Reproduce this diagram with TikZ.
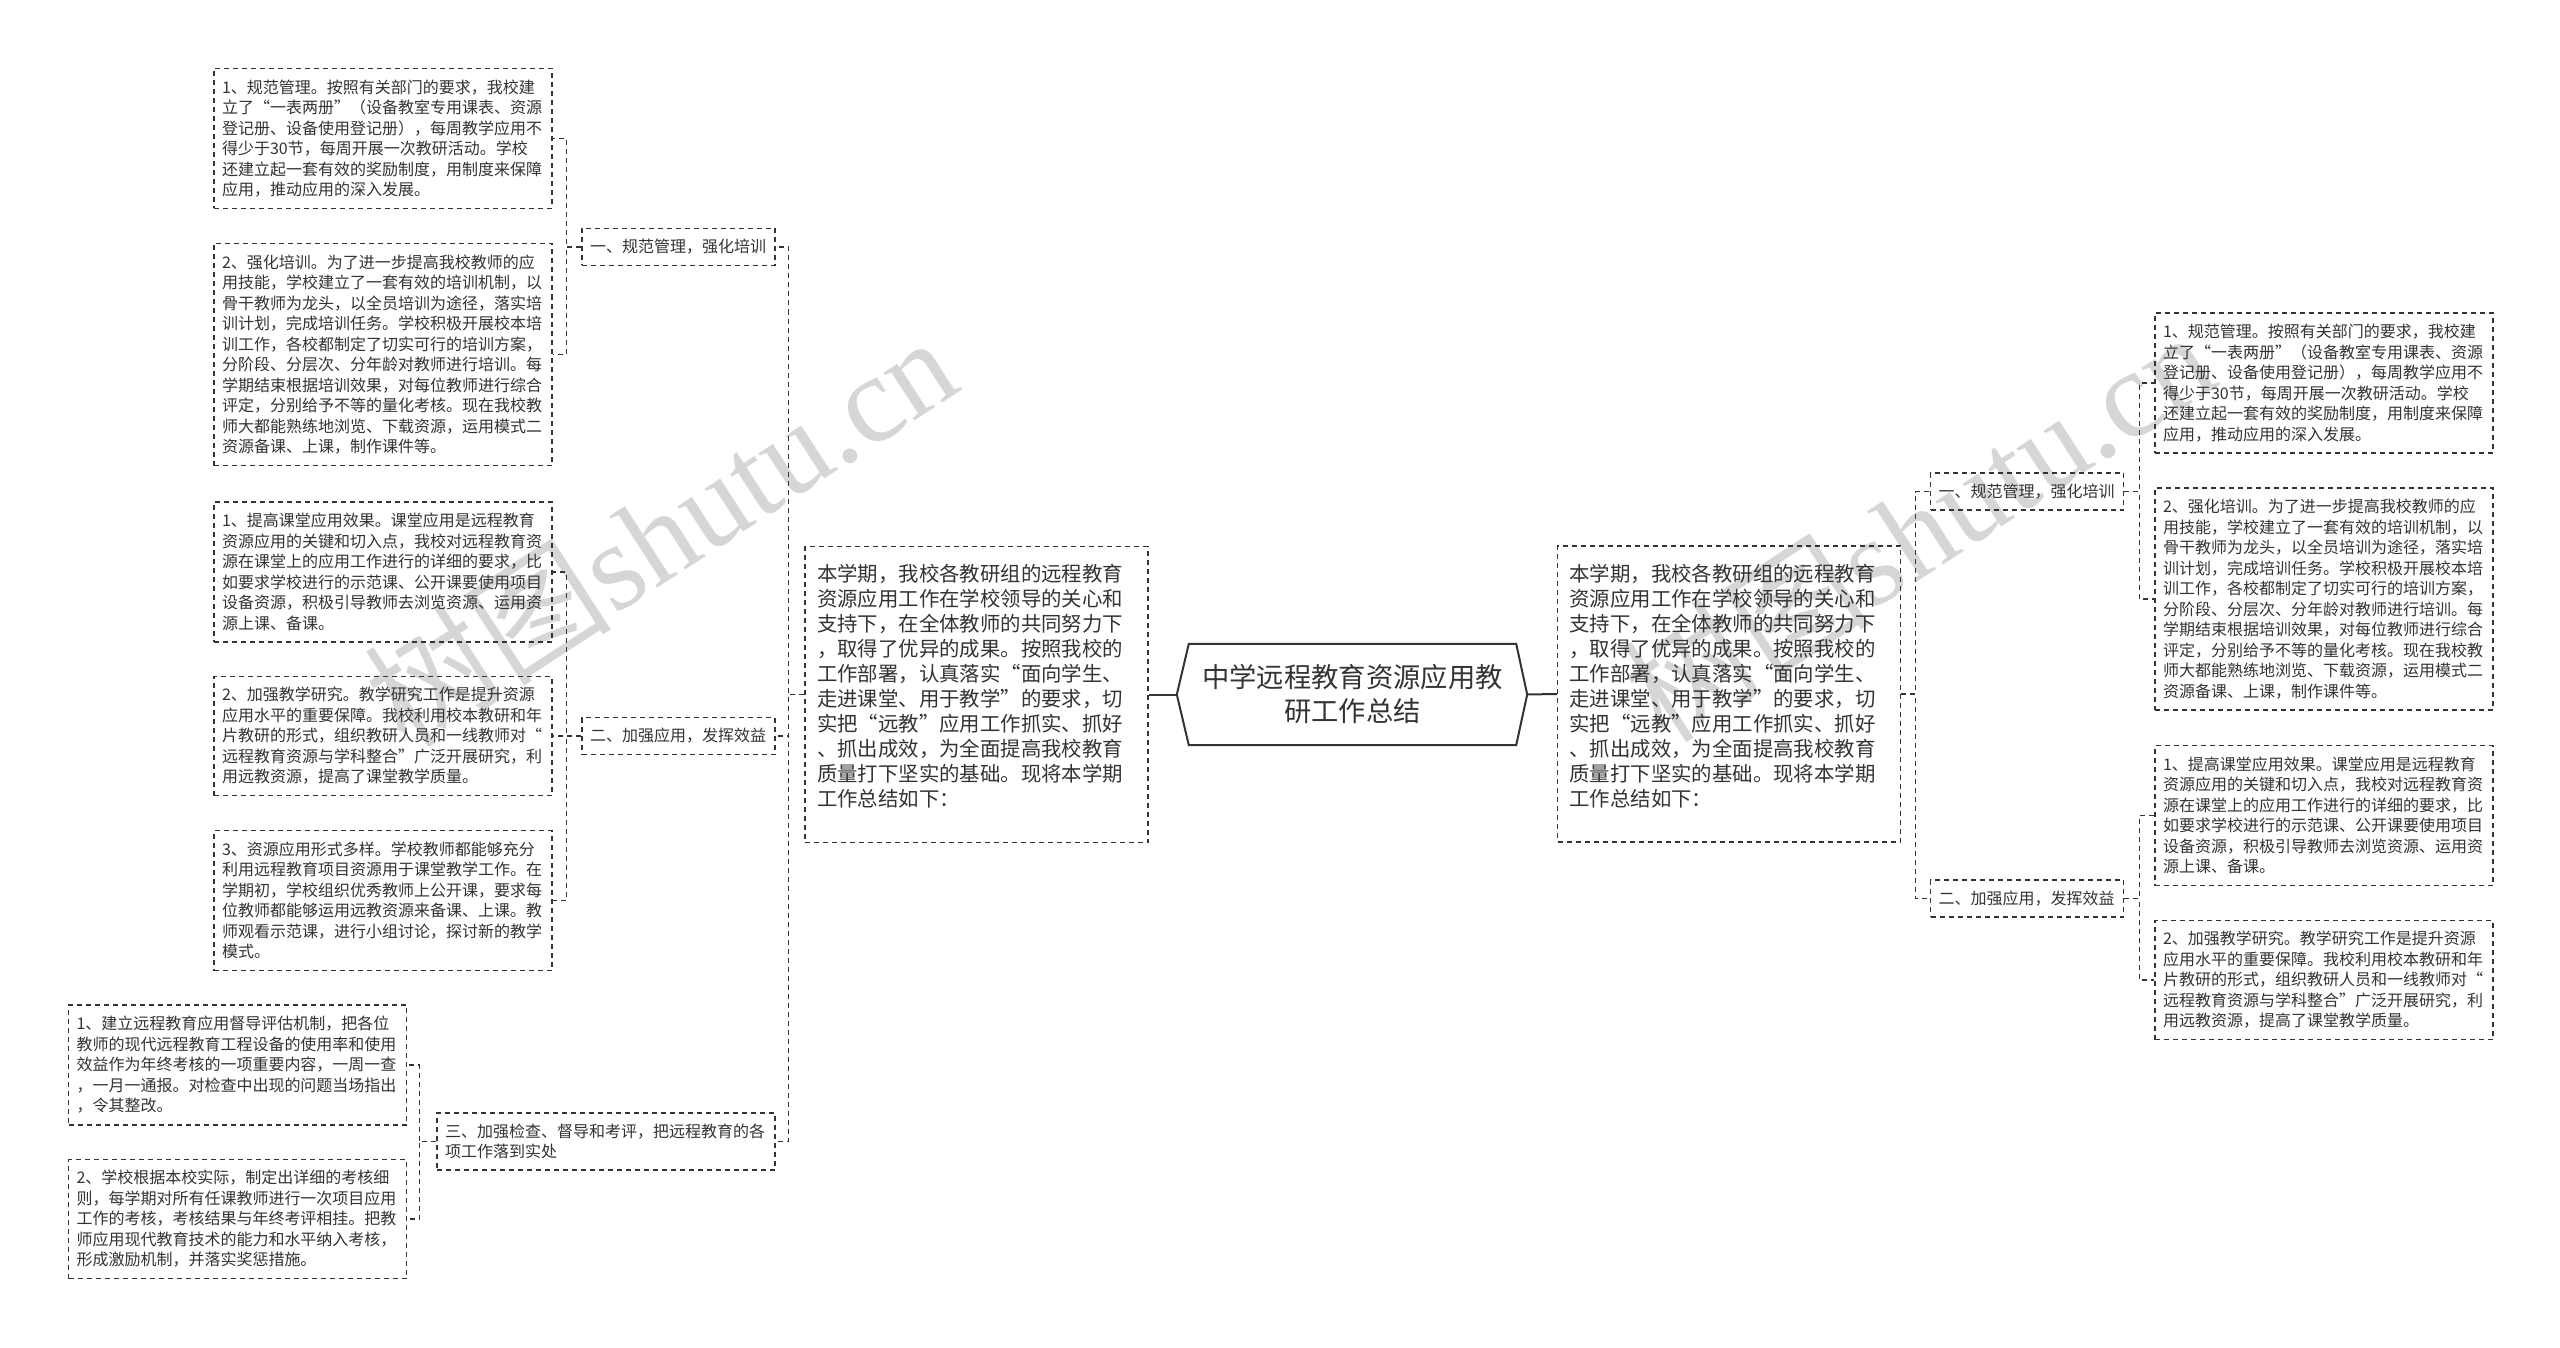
\documentclass[tikz,border=0pt]{standalone}
\usepackage{fontspec}
\setmainfont{Noto Sans CJK SC}
\newfontfamily\wmlatin{Liberation Serif}
\usetikzlibrary{calc}
\definecolor{ink}{HTML}{333333}
\definecolor{wmgray}{HTML}{D6D6D6}
\begin{document}
\begin{tikzpicture}[x=1pt,y=-1pt,
 dsh/.style={dash pattern=on 5pt off 4pt},
 box/.style={draw=ink,dsh,line width=1.5pt,text=ink,align=left,inner xsep=8pt,inner ysep=0pt,font=\fontsize{16}{20.5}\selectfont},
 kid/.style={box,text width=322pt,minimum width=338pt},
 br/.style={box,text width=177pt,minimum width=193pt,minimum height=37pt},
 intro/.style={box,inner xsep=12pt,text width=319pt,minimum width=343pt,minimum height=296pt,font=\fontsize{20.4}{25}\selectfont},
 conn/.style={draw=ink,dsh,line width=1.5pt},
 solidln/.style={draw=ink,line width=2pt},
 wmark/.style={text=wmgray,font=\fontsize{124}{124}\selectfont,rotate=33,inner sep=0pt}
]
\useasboundingbox (0,0) rectangle (2560,1348);
\fill[white] (0,0) rectangle (2560,1348);

% watermarks
\node[wmark] (wmA) at (660,530) {树图\wmlatin shutu.cn};
\node[wmark] (wmB) at (1918,525) {树图\wmlatin shutu.cn};

% centre
\node[text=ink,align=center,font=\fontsize{27.3}{34}\selectfont,minimum width=327pt,minimum height=101pt,inner sep=0pt,text width=327pt] (c) at (1352.5,694.5) {中学远程教育资源应用教\\研工作总结};
\coordinate (cW) at ($(c.west)+(-12,0)$);
\coordinate (cE) at ($(c.east)+(11,0)$);
\draw[solidln] (c.north west) -- (c.north east) -- (cE) -- (c.south east) -- (c.south west) -- (cW) -- cycle;

% intro boxes
\node[intro] (iL) at (976.5,694.5) {本学期，我校各教研组的远程教育\\资源应用工作在学校领导的关心和\\支持下，在全体教师的共同努力下\\，取得了优异的成果。按照我校的\\工作部署，认真落实“面向学生、\\走进课堂、用于教学”的要求，切\\实把“远教”应用工作抓实、抓好\\、抓出成效，为全面提高我校教育\\质量打下坚实的基础。现将本学期\\工作总结如下：\par\vspace*{16pt}};
\node[intro] (iR) at (1729,694) {本学期，我校各教研组的远程教育\\资源应用工作在学校领导的关心和\\支持下，在全体教师的共同努力下\\，取得了优异的成果。按照我校的\\工作部署，认真落实“面向学生、\\走进课堂、用于教学”的要求，切\\实把“远教”应用工作抓实、抓好\\、抓出成效，为全面提高我校教育\\质量打下坚实的基础。现将本学期\\工作总结如下：\par\vspace*{16pt}};

% left branches
\node[br] (b1L) at (678.5,247) {一、规范管理，强化培训};
\node[br] (b2L) at (678.5,736) {二、加强应用，发挥效益};
\node[box,text width=322pt,minimum width=338pt,minimum height=57pt] (b3L) at (606,1141.5) {三、加强检查、督导和考评，把远程教育的各\\项工作落到实处};

% left children
\node[kid,minimum height=140pt] (l1a) at (383,138.5) {1、规范管理。按照有关部门的要求，我校建\\立了“一表两册”（设备教室专用课表、资源\\登记册、设备使用登记册），每周教学应用不\\得少于30节，每周开展一次教研活动。学校\\还建立起一套有效的奖励制度，用制度来保障\\应用，推动应用的深入发展。};
\node[kid,minimum height=222pt] (l1b) at (383,354.5) {2、强化培训。为了进一步提高我校教师的应\\用技能，学校建立了一套有效的培训机制，以\\骨干教师为龙头，以全员培训为途径，落实培\\训计划，完成培训任务。学校积极开展校本培\\训工作，各校都制定了切实可行的培训方案，\\分阶段、分层次、分年龄对教师进行培训。每\\学期结束根据培训效果，对每位教师进行综合\\评定，分别给予不等的量化考核。现在我校教\\师大都能熟练地浏览、下载资源，运用模式二\\资源备课、上课，制作课件等。};
\node[kid,minimum height=140pt] (l2a) at (383,572) {1、提高课堂应用效果。课堂应用是远程教育\\资源应用的关键和切入点，我校对远程教育资\\源在课堂上的应用工作进行的详细的要求，比\\如要求学校进行的示范课、公开课要使用项目\\设备资源，积极引导教师去浏览资源、运用资\\源上课、备课。};
\node[kid,minimum height=119pt] (l2b) at (383,736) {2、加强教学研究。教学研究工作是提升资源\\应用水平的重要保障。我校利用校本教研和年\\片教研的形式，组织教研人员和一线教师对“\\远程教育资源与学科整合”广泛开展研究，利\\用远教资源，提高了课堂教学质量。};
\node[kid,minimum height=140pt] (l2c) at (383,900.5) {3、资源应用形式多样。学校教师都能够充分\\利用远程教育项目资源用于课堂教学工作。在\\学期初，学校组织优秀教师上公开课，要求每\\位教师都能够运用远教资源来备课、上课。教\\师观看示范课，进行小组讨论，探讨新的教学\\模式。};
\node[kid,minimum height=120pt] (l3a) at (237.5,1065) {1、建立远程教育应用督导评估机制，把各位\\教师的现代远程教育工程设备的使用率和使用\\效益作为年终考核的一项重要内容，一周一查\\，一月一通报。对检查中出现的问题当场指出\\，令其整改。};
\node[kid,minimum height=119pt] (l3b) at (237.5,1219) {2、学校根据本校实际，制定出详细的考核细\\则，每学期对所有任课教师进行一次项目应用\\工作的考核，考核结果与年终考评相挂。把教\\师应用现代教育技术的能力和水平纳入考核，\\形成激励机制，并落实奖惩措施。};

% right branches
\node[br] (b1R) at (2027,491.5) {一、规范管理，强化培训};
\node[br] (b2R) at (2027,898.5) {二、加强应用，发挥效益};

% right children
\node[kid,minimum height=140pt] (r1a) at (2324,383) {1、规范管理。按照有关部门的要求，我校建\\立了“一表两册”（设备教室专用课表、资源\\登记册、设备使用登记册），每周教学应用不\\得少于30节，每周开展一次教研活动。学校\\还建立起一套有效的奖励制度，用制度来保障\\应用，推动应用的深入发展。};
\node[kid,minimum height=222pt] (r1b) at (2324,599) {2、强化培训。为了进一步提高我校教师的应\\用技能，学校建立了一套有效的培训机制，以\\骨干教师为龙头，以全员培训为途径，落实培\\训计划，完成培训任务。学校积极开展校本培\\训工作，各校都制定了切实可行的培训方案，\\分阶段、分层次、分年龄对教师进行培训。每\\学期结束根据培训效果，对每位教师进行综合\\评定，分别给予不等的量化考核。现在我校教\\师大都能熟练地浏览、下载资源，运用模式二\\资源备课、上课，制作课件等。};
\node[kid,minimum height=140pt] (r2a) at (2324,815.5) {1、提高课堂应用效果。课堂应用是远程教育\\资源应用的关键和切入点，我校对远程教育资\\源在课堂上的应用工作进行的详细的要求，比\\如要求学校进行的示范课、公开课要使用项目\\设备资源，积极引导教师去浏览资源、运用资\\源上课、备课。};
\node[kid,minimum height=119pt] (r2b) at (2324,980) {2、加强教学研究。教学研究工作是提升资源\\应用水平的重要保障。我校利用校本教研和年\\片教研的形式，组织教研人员和一线教师对“\\远程教育资源与学科整合”广泛开展研究，利\\用远教资源，提高了课堂教学质量。};

% connectors
\draw[solidln] (cW) -- (iL.east);
\draw[solidln] (cE) -- (iR.west);
\foreach \b in {b1L,b2L,b3L} \draw[conn] (iL.west) -- ++(-16,0) |- (\b.east);
\foreach \k in {l1a,l1b} \draw[conn] (b1L.west) -- ++(-15,0) |- (\k.east);
\foreach \k in {l2a,l2b,l2c} \draw[conn] (b2L.west) -- ++(-15,0) |- (\k.east);
\foreach \k in {l3a,l3b} \draw[conn] (b3L.west) -- ++(-17,0) |- (\k.east);
\foreach \b in {b1R,b2R} \draw[conn] (iR.east) -- ++(14,0) |- (\b.west);
\foreach \k in {r1a,r1b} \draw[conn] (b1R.east) -- ++(15,0) |- (\k.west);
\foreach \k in {r2a,r2b} \draw[conn] (b2R.east) -- ++(15,0) |- (\k.west);
\end{tikzpicture}
\end{document}
